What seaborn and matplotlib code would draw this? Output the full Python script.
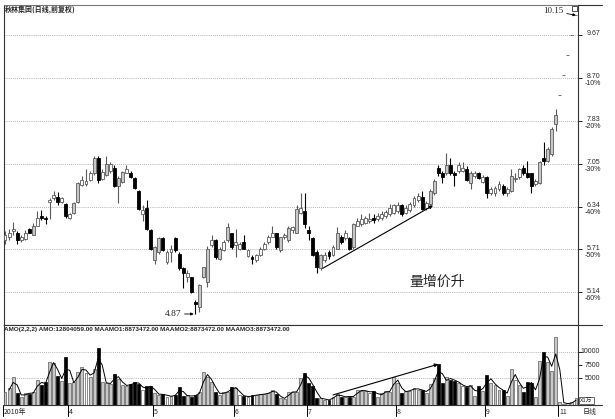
import matplotlib.pyplot as plt
import matplotlib.transforms as mtransforms
from matplotlib.lines import Line2D
from matplotlib.patches import Rectangle
from matplotlib.ticker import FixedLocator, NullLocator
import numpy as np
import pandas as pd
import seaborn as sns

# ── 日线数据 (前复权) ───────────────────────────────────────
opens = [5.84, 5.88, 5.97, 5.94, 5.84, 5.85, 6.00, 5.92, 6.05, 6.19,
         6.17, 6.42, 6.47, 6.50, 6.42, 6.39, 6.17, 6.25, 6.42, 6.69,
         6.71, 6.77, 6.88, 7.14, 6.79, 6.86, 6.93, 6.98, 6.67, 6.74,
         6.89, 6.89, 6.81, 6.59, 6.23, 6.32, 5.98, 5.56, 5.67, 5.87,
         5.53, 5.67, 5.87, 5.65, 5.45, 5.33, 5.33, 5.01, 4.95, 5.33,
         5.27, 5.77, 5.84, 5.58, 5.70, 5.84, 5.94, 5.77, 5.72, 5.81,
         5.61, 5.60, 5.56, 5.63, 5.71, 5.81, 5.89, 5.94, 5.70, 5.88,
         5.84, 5.98, 5.95, 6.25, 6.28, 5.98, 5.87, 5.67, 5.45, 5.56,
         5.67, 5.63, 5.72, 5.88, 5.87, 5.87, 5.74, 6.05, 6.08, 6.09,
         6.12, 6.17, 6.15, 6.17, 6.20, 6.22, 6.25, 6.28, 6.36, 6.25,
         6.29, 6.36, 6.45, 6.50, 6.32, 6.39, 6.56, 6.98, 6.88, 6.88,
         7.02, 6.89, 6.93, 6.93, 6.96, 6.72, 6.84, 6.89, 6.74, 6.82,
         6.56, 6.55, 6.62, 6.67, 6.56, 6.59, 6.79, 6.82, 6.98, 6.89,
         6.88, 6.71, 6.72, 7.14, 7.10, 7.22, 7.77, 8.35, 8.76, 9.20,
         9.66, 10.15]
highs = [5.97, 6.00, 6.11, 5.97, 5.91, 5.98, 6.01, 6.09, 6.28, 6.29,
         6.19, 6.47, 6.59, 6.58, 6.50, 6.40, 6.25, 6.42, 6.74, 6.84,
         6.96, 6.93, 7.19, 7.19, 6.95, 7.19, 7.08, 7.02, 6.84, 6.93,
         7.03, 6.93, 6.82, 6.61, 6.36, 6.45, 6.00, 5.75, 5.88, 5.88,
         5.70, 5.77, 5.88, 5.67, 5.46, 5.42, 5.34, 5.04, 5.24, 5.47,
         5.75, 5.91, 5.85, 5.74, 5.84, 6.09, 5.95, 6.00, 5.82, 5.91,
         5.72, 5.63, 5.64, 5.74, 5.81, 5.92, 6.05, 5.95, 5.89, 5.94,
         6.05, 6.05, 6.36, 6.56, 6.56, 6.05, 5.88, 5.70, 5.64, 5.67,
         5.70, 5.77, 6.03, 5.91, 5.98, 5.89, 6.09, 6.17, 6.22, 6.20,
         6.25, 6.22, 6.25, 6.28, 6.29, 6.39, 6.39, 6.42, 6.39, 6.36,
         6.42, 6.51, 6.55, 6.59, 6.43, 6.62, 6.79, 7.03, 6.93, 7.24,
         7.14, 6.93, 7.07, 7.07, 7.00, 6.93, 6.93, 6.91, 6.86, 6.84,
         6.65, 6.67, 6.76, 6.71, 6.65, 6.96, 6.89, 6.98, 7.02, 7.10,
         6.89, 6.79, 7.10, 7.43, 7.35, 7.72, 8.06, 8.35, 8.76, 9.20,
         9.66, 10.15]
lows = [5.79, 5.84, 5.91, 5.78, 5.81, 5.84, 5.94, 5.91, 6.04, 6.14,
        6.08, 6.15, 6.45, 6.36, 6.40, 6.17, 6.15, 6.23, 6.40, 6.67,
        6.67, 6.76, 6.86, 6.72, 6.77, 6.84, 6.89, 6.65, 6.40, 6.72,
        6.88, 6.81, 6.62, 6.29, 6.12, 5.98, 5.70, 5.51, 5.65, 5.68,
        5.51, 5.53, 5.67, 5.43, 5.19, 5.27, 5.13, 4.87, 4.89, 5.32,
        5.20, 5.74, 5.58, 5.56, 5.68, 5.82, 5.72, 5.60, 5.70, 5.71,
        5.60, 5.51, 5.54, 5.61, 5.70, 5.79, 5.88, 5.72, 5.67, 5.85,
        5.82, 5.95, 5.94, 6.22, 6.01, 5.84, 5.61, 5.39, 5.42, 5.54,
        5.58, 5.61, 5.71, 5.78, 5.84, 5.70, 5.72, 6.04, 6.05, 6.08,
        6.09, 6.09, 6.12, 6.14, 6.17, 6.19, 6.23, 6.25, 6.20, 6.22,
        6.26, 6.34, 6.42, 6.29, 6.29, 6.36, 6.53, 6.84, 6.72, 6.86,
        6.86, 6.67, 6.89, 6.91, 6.76, 6.62, 6.81, 6.79, 6.72, 6.48,
        6.53, 6.51, 6.59, 6.53, 6.51, 6.58, 6.74, 6.79, 6.86, 6.81,
        6.56, 6.67, 6.71, 7.02, 7.07, 7.19, 7.64, 8.35, 8.76, 9.20,
        9.66, 10.15]
closes = [5.91, 5.95, 6.00, 5.84, 5.88, 5.95, 5.95, 6.05, 6.17, 6.17,
          6.15, 6.45, 6.53, 6.42, 6.48, 6.19, 6.23, 6.40, 6.72, 6.77,
          6.76, 6.88, 7.14, 6.77, 6.91, 7.05, 7.05, 6.67, 6.81, 6.91,
          6.95, 6.82, 6.64, 6.31, 6.29, 6.00, 5.71, 5.74, 5.87, 5.70,
          5.67, 5.72, 5.70, 5.45, 5.39, 5.39, 5.14, 4.99, 5.23, 5.46,
          5.72, 5.84, 5.60, 5.72, 5.81, 6.03, 5.74, 5.81, 5.79, 5.72,
          5.70, 5.57, 5.63, 5.72, 5.79, 5.89, 5.94, 5.74, 5.88, 5.91,
          6.01, 6.03, 6.31, 6.32, 6.08, 5.95, 5.63, 5.46, 5.63, 5.63,
          5.61, 5.74, 5.95, 5.81, 5.95, 5.72, 6.08, 6.12, 6.15, 6.17,
          6.15, 6.14, 6.20, 6.23, 6.26, 6.32, 6.36, 6.37, 6.23, 6.32,
          6.39, 6.48, 6.51, 6.31, 6.40, 6.59, 6.76, 6.88, 6.82, 7.02,
          6.89, 6.86, 7.02, 6.98, 6.77, 6.89, 6.89, 6.81, 6.82, 6.55,
          6.62, 6.64, 6.71, 6.56, 6.62, 6.84, 6.81, 6.95, 6.89, 6.82,
          6.67, 6.76, 7.07, 7.10, 7.31, 7.68, 7.95, 8.35, 8.76, 9.20,
          9.66, 10.15]
# 成交额 AMO, 单位: 万元
amo = [2450, 3200, 5300, 2300, 1500, 2300, 2100, 2450, 4700, 3800,
       4300, 8100, 7900, 5500, 4500, 9000, 4100, 4300, 6200, 7200,
       6000, 5300, 6800, 10800, 4300, 4100, 4000, 5800, 4900, 3800,
       3600, 4000, 4300, 4000, 2800, 3500, 3600, 2200, 1900, 2100,
       1600, 1700, 1900, 3400, 1700, 1800, 1600, 1900, 2500, 6200,
       5300, 4300, 2500, 1900, 2500, 2500, 3400, 3200, 1800, 1700,
       1500, 1800, 1900, 2000, 2100, 2300, 2800, 2100, 1300, 1200,
       2400, 2500, 2450, 5100, 6100, 4100, 3600, 1300, 1300, 950,
       950, 1600, 2100, 1500, 1600, 1600, 1600, 2800, 2700, 2700,
       2300, 2700, 1600, 2300, 2600, 2500, 5300, 4100, 2300, 2700,
       2700, 3300, 2800, 2900, 2200, 3900, 5000, 7700, 4100, 5200,
       4800, 4600, 4100, 3500, 3400, 3800, 1700, 3500, 2700, 5700,
       4200, 3800, 2800, 2800, 1700, 6800, 4700, 3800, 2500, 4400,
       4100, 1600, 8300, 10000, 8100, 6500, 12800, 600, 250, 300,
       494.2885, 1280.4059]

price_levels = [9.67, 8.70, 7.83, 7.05, 6.34, 5.71, 5.14]
pct_labels = ["", "-10%", "-20%", "-30%", "-40%", "-50%", "-60%"]
vol_levels = [10000, 7500, 5000]
vol_grid = [10000, 5000]
month_labels = ["2010年", "4", "5", "6", "7", "8", "9", "11"]
month_idx = [0, 16, 37, 57, 75, 97, 119, 137]

# ── 样式 ─────────────────────────────────────────────────────────
sns.set_theme(style="white")
plt.rcParams["font.family"] = ["Noto Sans CJK SC", "DejaVu Sans"]
plt.rcParams["axes.unicode_minus"] = False

EDGE = "#5a5a5a"
GRID = "#9a9a9a"
GRAY = "#c8c8c8"
NUM = ["Liberation Sans", "DejaVu Sans"]
SERIF = ["Liberation Serif", "DejaVu Serif"]

df = pd.DataFrame({"open": opens, "high": highs, "low": lows,
                   "close": closes, "amo": amo})
df["x"] = np.arange(len(df))
df["ma"] = df["amo"].rolling(2).mean()
up = df["close"] >= df["open"]
rising = df["close"] >= df["close"].shift(1).fillna(df["open"])

W, H = 615, 419


def box(l, t, r, b):
    return [l / W, 1 - b / H, (r - l) / W, (b - t) / H]


def fy(y):
    return 1 - y / H


fig = plt.figure(figsize=(W / 100, H / 100), dpi=100, facecolor="white")
ax = fig.add_axes(box(4, 5, 578, 325))
axv = fig.add_axes(box(4, 325, 578, 405), sharex=ax)

# ── K线 ──────────────────────────────────────────────────────────
ax.set_yscale("log")
ax.set_xlim(-0.25, 141.5)
ax.set_ylim(4.74, 10.41)

wick_c = np.where(up, EDGE, "black")
face_c = np.where(up, np.where(rising & ((df["close"] - df["open"]) / df["open"] > 0.02), GRAY, "white"), "black")
edge_c = np.where(up, EDGE, "black")
ax.vlines(df["x"], df["low"], df["high"], colors=wick_c, lw=0.8, zorder=2)
ax.bar(df["x"], (df["close"] - df["open"]).abs(),
       bottom=np.minimum(df["open"], df["close"]), width=0.72,
       color=face_c, edgecolor=edge_c, lw=0.6, zorder=3)

ax.yaxis.set_major_locator(FixedLocator(price_levels))
ax.yaxis.set_minor_locator(NullLocator())
ax.yaxis.tick_right()
ax.tick_params(axis="y", which="both", length=3, width=0.6, color="black",
               labelright=False, labelleft=False, right=True, direction="out")
ax.tick_params(axis="x", bottom=False, labelbottom=False)
ax.grid(axis="y", color=GRID, ls=(0, (1, 1.5)), lw=0.6)
ax.grid(axis="x", visible=False)

# 右侧价格与百分比
tr_p = mtransforms.blended_transform_factory(fig.transFigure, ax.transData)
for lv, pct in zip(price_levels, pct_labels):
    ax.text(600 / W, lv, f"{lv:.2f}", transform=mtransforms.offset_copy(tr_p, fig=fig, y=1, units="dots"),
            ha="right", va="center", fontsize=5, family=NUM, clip_on=False)
    if pct:
        ax.text(601 / W, lv, pct, transform=mtransforms.offset_copy(tr_p, fig=fig, y=-6, units="dots"),
                ha="right", va="center", fontsize=5, family=NUM, clip_on=False)

# 最低 / 最高标注
i_lo = int(df["low"].idxmin())
ax.annotate(f"{df['low'][i_lo]:.2f}", xy=(i_lo - 0.4, df["low"][i_lo]), xytext=(-9, 0),
            textcoords="offset points", ha="right", va="center", fontsize=6.8,
            family=SERIF, arrowprops=dict(arrowstyle="-|>", color="black", lw=0.6,
                                          mutation_scale=4, shrinkA=0, shrinkB=0))
i_hi = int(df["high"].idxmax())
ax.annotate(f"{df['high'][i_hi]:.2f}", xy=(i_hi, df["high"][i_hi]), xytext=(-9, 3),
            textcoords="offset points", ha="right", va="center", fontsize=6.5,
            family=SERIF, arrowprops=dict(arrowstyle="-|>", color="black", lw=0.6,
                                          mutation_scale=4, shrinkA=0, shrinkB=0))

# 量增价升 趋势线
ax.annotate("", xy=(105.7, 6.36), xytext=(78.5, 5.45),
            arrowprops=dict(arrowstyle="-|>", color="black", lw=0.8,
                            mutation_scale=5, shrinkA=0, shrinkB=0))
ax.text(106.7, 5.27, "量增价升", ha="center", va="center", fontsize=10, color="#222222")

for sp in ax.spines.values():
    sp.set_color("#333333")
    sp.set_linewidth(0.8)
ax.spines["top"].set_color("#777777")

# ── 成交额 ───────────────────────────────────────────────────────
vface = np.where(up, np.where(rising, GRAY, "white"), "black")
vedge = np.where(up, EDGE, "black")
axv.bar(df["x"], df["amo"], width=0.72, color=vface, edgecolor=vedge, lw=0.5, zorder=3)
sns.lineplot(data=df, x="x", y="ma", ax=axv, color="black", lw=0.7, legend=False, zorder=4)
axv.set_ylim(0, 15094)
axv.set_xlim(-0.25, 141.5)
axv.set_xlabel("")
axv.set_ylabel("")
axv.yaxis.set_major_locator(FixedLocator(vol_levels))
axv.yaxis.tick_right()
axv.tick_params(axis="y", length=3, width=0.6, color="black", labelright=False,
                right=True, direction="out")
axv.tick_params(axis="x", bottom=False, labelbottom=False)
axv.grid(False)
axv.hlines(vol_grid, -0.25, 141.5, colors=GRID, linestyles=[(0, (1, 1.5))], lw=0.6, zorder=1)

tr_v = mtransforms.blended_transform_factory(fig.transFigure, axv.transData)
for lv in vol_levels:
    axv.text(600 / W, lv, f"{lv}", transform=tr_v, ha="right", va="center",
             fontsize=5, family=NUM, clip_on=False)

header = (f"AMO(2,2,2) AMO:{df['amo'].iloc[-1] * 1e4:.2f} "
          f"MAAMO1:{df['ma'].iloc[-1] * 1e4:.2f} "
          f"MAAMO2:{df['ma'].iloc[-1] * 1e4:.2f} "
          f"MAAMO3:{df['ma'].iloc[-1] * 1e4:.2f}")
axv.text(0.0, (405 - 330) / 80, header, transform=axv.transAxes, ha="left",
         va="center", fontsize=4.6, family=NUM, fontweight="bold")

axv.annotate("", xy=(107, df["amo"][107]), xytext=(81, 1900),
             arrowprops=dict(arrowstyle="-|>", color="black", lw=0.8,
                             mutation_scale=5, shrinkA=0, shrinkB=0))

for sp in axv.spines.values():
    sp.set_color("#333333")
    sp.set_linewidth(0.8)

# ── 日期轴 ───────────────────────────────────────────────────────
tr_d = mtransforms.blended_transform_factory(axv.transData, fig.transFigure)
for idx, lab in zip(month_idx, month_labels):
    xi = idx - 0.5
    fig.add_artist(Line2D([xi, xi], [fy(405), fy(416)], transform=tr_d,
                          color="black", lw=0.7))
    axv.text(xi + 0.3, fy(411.5), lab, transform=tr_d, ha="left", va="center",
             fontsize=5, clip_on=False)

# 右侧框线延伸 & 小标记
for yy in (5, 325, 405):
    fig.add_artist(Line2D([578 / W, 602 / W], [fy(yy), fy(yy)], transform=fig.transFigure,
                          color="#333333", lw=0.8))
fig.add_artist(Rectangle((572 / W, fy(11)), 5 / W, 5 / H, fill=False, lw=0.6,
                         edgecolor="#333333", transform=fig.transFigure))
fig.add_artist(Rectangle((579 / W, fy(404)), 15 / W, 7 / H, fill=False, lw=0.5,
                         edgecolor="#333333", transform=fig.transFigure))
fig.text(586.5 / W, fy(400.5), "X1万", ha="center", va="center", fontsize=4.2)
fig.text(583 / W, fy(412), "日线", ha="left", va="center", fontsize=5)

fig.text(5 / W, fy(9.5), "秋林集团(日线,前复权)", ha="left", va="center",
         fontsize=5, fontweight="bold")

fig.savefig("out.png", dpi=100, facecolor="white")
